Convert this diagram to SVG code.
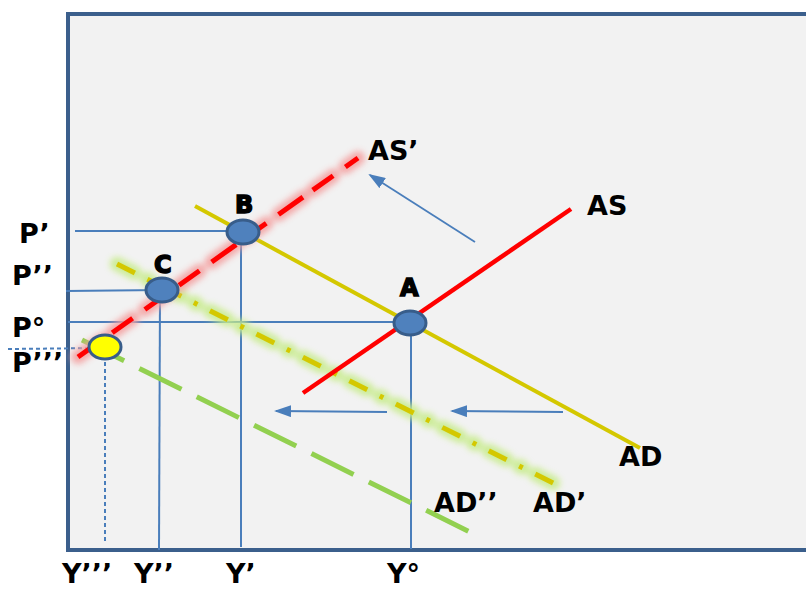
<svg xmlns="http://www.w3.org/2000/svg" width="806" height="589" viewBox="0 0 806 589">
<defs>
<style>
.lbl{font-family:"DejaVu Sans",Verdana,sans-serif;font-weight:bold;font-size:27px;fill:#000}
.pt{font-family:"DejaVu Sans",sans-serif;font-weight:bold;font-size:24px;fill:#000;stroke:#000;stroke-width:1.5}
.guide{stroke:#4A7EBB;stroke-width:2;fill:none}
.arr{stroke:#4A7EBB;stroke-width:1.8;fill:none}
.node{fill:#4F81BD;stroke:#385D8A;stroke-width:3}
</style>
<filter id="blur" x="-20%" y="-20%" width="140%" height="140%"><feGaussianBlur stdDeviation="3"/></filter>
<marker id="ah" markerWidth="17" markerHeight="12" refX="15" refY="6" orient="auto" markerUnits="userSpaceOnUse" viewBox="0 0 17 12">
<path d="M0,0 L17,6 L0,12 Z" fill="#4A7EBB"/>
</marker>
</defs>
<rect x="0" y="0" width="806" height="589" fill="#ffffff"/>
<rect id="frame" x="68" y="14" width="760" height="536" fill="#F2F2F2" stroke="#3B5F8C" stroke-width="4"/>

<g id="connectors">
<line class="guide" x1="75" y1="231" x2="242" y2="231"/>
<line class="guide" x1="66" y1="291" x2="162" y2="290"/>
<line class="guide" x1="68" y1="322" x2="410" y2="322"/>
<line class="guide" x1="8" y1="349" x2="104" y2="348" stroke-dasharray="4,3"/>
<line class="guide" x1="411" y1="323" x2="411" y2="549"/>
<line class="guide" x1="241" y1="232" x2="241" y2="547"/>
<line class="guide" x1="160" y1="290" x2="159" y2="550"/>
<line class="guide" x1="105" y1="348" x2="105" y2="544" stroke-dasharray="4,3"/>

<line id="ADpp" x1="82" y1="340" x2="472" y2="533" stroke="#92D050" stroke-width="5" stroke-dasharray="47,17"/>

<g id="ADp">
<line x1="117" y1="264" x2="565" y2="489" stroke="#C8EC8C" stroke-width="14" stroke-linecap="round" stroke-dasharray="20,14,4,14" filter="url(#blur)" opacity="0.9"/>
<line x1="117" y1="264" x2="565" y2="489" stroke="#D4C800" stroke-width="5" stroke-dasharray="20,14,4,14"/>
</g>

<line id="AD" x1="195" y1="206" x2="640" y2="448" stroke="#D4C800" stroke-width="4"/>

<line id="AS" x1="303" y1="393" x2="571" y2="209" stroke="#FF0000" stroke-width="4.5"/>

<g id="ASp">
<line x1="78" y1="357" x2="358" y2="158" stroke="#F4A0A0" stroke-width="14" stroke-linecap="round" stroke-dasharray="30,12,25,15" filter="url(#blur)" opacity="0.9"/>
<line x1="78" y1="357" x2="358" y2="158" stroke="#FF0000" stroke-width="5" stroke-dasharray="30,12,25,15"/>
</g>

<line class="arr" x1="475" y1="242" x2="370" y2="175" marker-end="url(#ah)"/>
<line class="arr" x1="563" y1="412" x2="452" y2="411" marker-end="url(#ah)"/>
<line class="arr" x1="387" y1="412" x2="276" y2="411" marker-end="url(#ah)"/>
</g>

<g id="nodeA"><ellipse class="node" cx="410" cy="323" rx="16" ry="12"/><text class="pt" x="400" y="296">A</text></g>
<g id="nodeB"><ellipse class="node" cx="243" cy="232" rx="16" ry="12"/><text class="pt" x="235" y="213">B</text></g>
<g id="nodeC"><ellipse class="node" cx="162" cy="290" rx="16" ry="12"/><text class="pt" x="154" y="273">C</text></g>
<g id="nodeY"><ellipse cx="105" cy="347" rx="16" ry="12" fill="#FFFF00" stroke="#385D8A" stroke-width="3"/></g>

<g id="labels">
<text class="lbl" x="368" y="160">AS’</text>
<text class="lbl" x="587" y="215">AS</text>
<text class="lbl" x="619" y="466">AD</text>
<text class="lbl" x="434" y="512">AD’’</text>
<text class="lbl" x="533" y="512">AD’</text>
<text class="lbl" x="19" y="243">P’</text>
<text class="lbl" x="12" y="285">P’’</text>
<text class="lbl" x="12" y="337">P°</text>
<text class="lbl" x="12" y="372">P’’’</text>
<text class="lbl" x="62" y="583">Y’’’</text>
<text class="lbl" x="134" y="583">Y’’</text>
<text class="lbl" x="226" y="583">Y’</text>
<text class="lbl" x="387" y="583">Y°</text>
</g>
</svg>
